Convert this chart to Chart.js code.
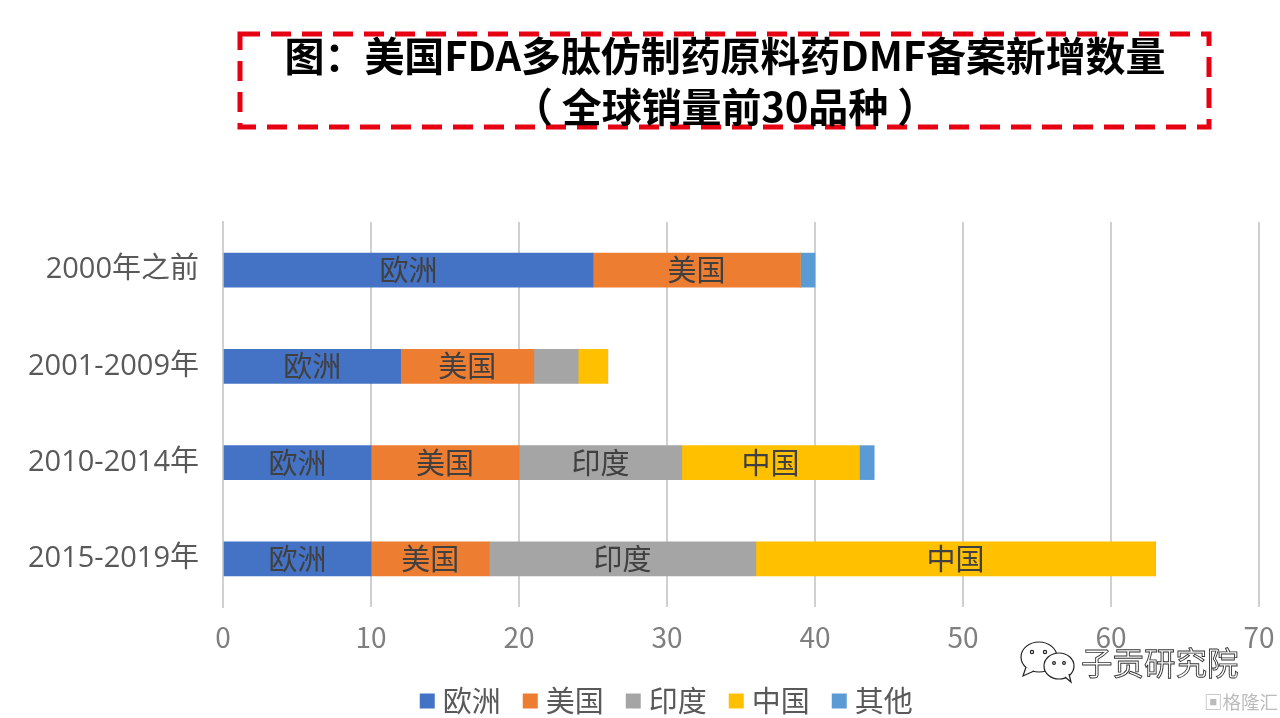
<!DOCTYPE html>
<html lang="zh">
<head>
<meta charset="UTF-8">
<title>美国FDA多肽仿制药原料药DMF备案新增数量</title>
<script src="https://cdn.jsdelivr.net/npm/chart.js"></script>
<style>
    body { margin: 0; width: 1280px; height: 718px; overflow: hidden; background: #fff; position: relative; font-family: "Noto Sans CJK SC", sans-serif; }
    #wrap { position: absolute; left: 0; top: 0; width: 1280px; height: 718px; }
    /* title box sits over the chart */
    #frame { position: absolute; left: 236px; top: 30px; }
    #title {
        position: absolute; left: 237px; top: 29px; width: 976px; text-align: center; color: #000;
        font-size: 40px; font-weight: 700; line-height: 51px; letter-spacing: -0.1px;
    }
    #title .line { white-space: nowrap; }
    #title .tc { font-family: "Noto Sans CJK TC", sans-serif; }
    #mark { position: absolute; left: 1081px; top: 641px; font-size: 31.5px; line-height: 40px; color: #fff; -webkit-text-stroke: 0.9px #333; }
    #icon { position: absolute; left: 1018px; top: 640px; }
    #gelonghui { position: absolute; left: 1204px; top: 689px; font-size: 18.5px; line-height: 24px; color: #bbb; white-space: nowrap; }
</style>
</head>
<body>
<div id="wrap"><canvas id="chart" width="1280" height="718"></canvas></div>
<svg id="frame" width="978" height="100">
    <rect x="4" y="4" width="969" height="93" fill="none" stroke="#e60012" stroke-width="5" stroke-dasharray="20 11"/>
</svg>
<div id="title">
    <div class="line">图<span class="tc">：</span>美国FDA多肽仿制药原料药DMF备案新增数量</div>
    <div class="line"><span class="tc">（ </span>全球销量前30品种<span class="tc"> ）</span></div>
</div>
<svg id="icon" width="62" height="44" viewBox="0 0 62 44" fill="#fff" stroke="#222" stroke-width="1.2">
    <ellipse cx="21" cy="17" rx="18" ry="15"/>
    <path d="M8 27 L5 36 L16 31" />
    <ellipse cx="41" cy="26" rx="15" ry="13"/>
    <path d="M47 37 L53 42 L51 34" />
    <circle cx="14" cy="12" r="1.6"/><circle cx="27" cy="12" r="1.6"/>
    <circle cx="36" cy="23" r="1.4"/><circle cx="46" cy="23" r="1.4"/>
</svg>
<div id="mark">子贡研究院</div>
<div id="gelonghui">▣格隆汇</div>
<script>
    var categories = ['2000年之前', '2001-2009年', '2010-2014年', '2015-2019年'];
    var regions = ['欧洲', '美国', '印度', '中国', '其他'];
    var europe = [25, 12, 10, 10];
    var usa = [14, 9, 10, 8];
    var india = [0, 3, 11, 18];
    var china = [0, 2, 12, 27];
    var other = [1, 0, 1, 0];
    var xTicks = [0, 10, 20, 30, 40, 50, 60, 70];
    var colors = ['#4472c4', '#ed7d31', '#a5a5a5', '#ffc000', '#5b9bd5'];

    var fontFamily = '"Noto Sans CJK SC", sans-serif';
    var yFontFamily = '"Open Sans", "Noto Sans CJK SC", sans-serif';

    function makeSet(i, values) {
        return { label: regions[i], data: values, backgroundColor: colors[i], barThickness: 34 };
    }

    // segment names inside the wider bars
    var segmentLabels = {
        id: 'segmentLabels',
        afterDatasetsDraw: function (chart) {
            var ctx = chart.ctx;
            ctx.save();
            ctx.font = '29px ' + fontFamily;
            ctx.fillStyle = '#404040';
            ctx.textAlign = 'center';
            ctx.textBaseline = 'middle';
            chart.data.datasets.forEach(function (ds, d) {
                chart.getDatasetMeta(d).data.forEach(function (bar, i) {
                    if (ds.data[i] < 8) return;
                    ctx.fillText(ds.label, (bar.x + bar.base) / 2, bar.y);
                });
            });
            ctx.restore();
        }
    };

    // legend is not centred on the page in the original
    var legendShift = {
        id: 'legendShift',
        beforeDraw: function (chart) {
            chart.legend.left = 80;
            chart.legend.right = 1259;
        }
    };

    new Chart(document.getElementById('chart'), {
        type: 'bar',
        data: {
            labels: categories,
            datasets: [makeSet(0, europe), makeSet(1, usa), makeSet(2, india), makeSet(3, china), makeSet(4, other)]
        },
        options: {
            indexAxis: 'y',
            responsive: false,
            animation: false,
            layout: { padding: { top: 222, right: 21, left: 0, bottom: -7.5 } },
            plugins: {
                tooltip: { enabled: false },
                legend: {
                    position: 'bottom',
                    labels: {
                        boxWidth: 2, boxHeight: 2, padding: 28.5,
                        font: { size: 29, family: fontFamily },
                        // thick outline keeps the swatch 15px but close to its text
                        generateLabels: function (chart) {
                            return chart.data.datasets.map(function (ds, i) {
                                return { text: ds.label, fontColor: '#595959', fillStyle: colors[i], strokeStyle: colors[i], lineWidth: 13, datasetIndex: i };
                            });
                        }
                    }
                }
            },
            scales: {
                x: {
                    stacked: true, min: 0, max: 70,
                    afterBuildTicks: function (scale) { scale.ticks = xTicks.map(function (v) { return { value: v }; }); },
                    afterFit: function (scale) { scale.height = 51; scale.paddingRight = 0; },
                    grid: { color: '#d0d0d0', lineWidth: 2, drawTicks: false },
                    border: { display: false },
                    ticks: { color: '#7f7f7f', padding: 14, maxRotation: 0, font: { size: 28, family: fontFamily } }
                },
                y: {
                    stacked: true,
                    afterFit: function (scale) { scale.width = 223; },
                    grid: { display: false, drawTicks: false },
                    border: { color: '#d0d0d0', width: 2 },
                    ticks: { color: '#595959', padding: 24, font: { size: 29, family: yFontFamily } }
                }
            }
        },
        plugins: [segmentLabels, legendShift]
    });
</script>
</body>
</html>
